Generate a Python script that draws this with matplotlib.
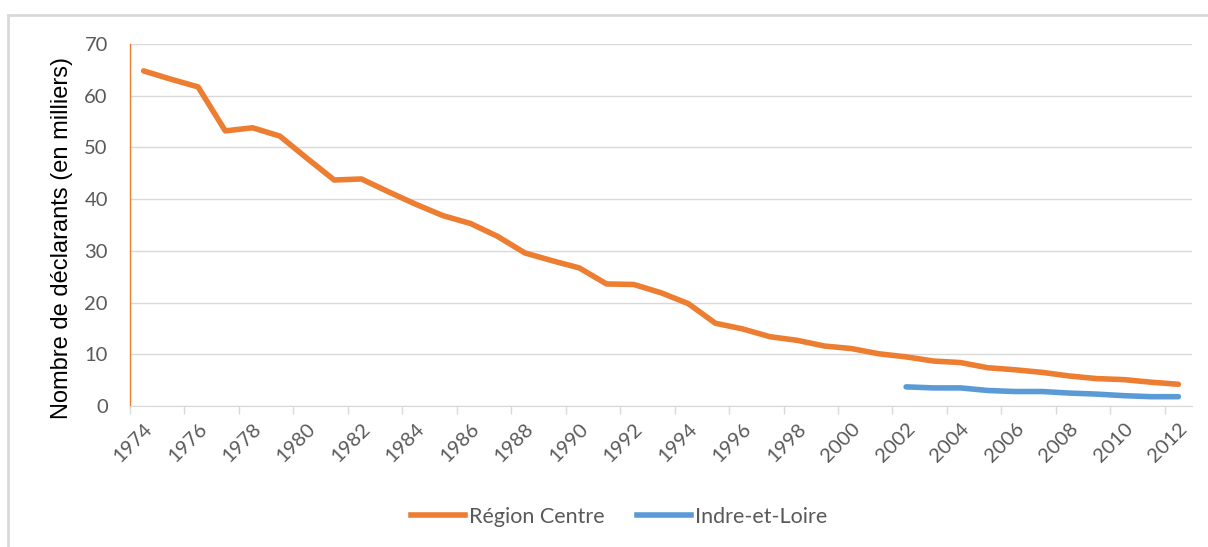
import numpy as np
import matplotlib
matplotlib.use("Agg")
import matplotlib.pyplot as plt
from matplotlib.lines import Line2D

annees = list(range(1974, 2013))
region_centre = [64.8, 63.2, 61.7, 53.2, 53.8, 52.2, 47.9, 43.7, 43.9, 41.4,
                 39.0, 36.8, 35.3, 32.8, 29.6, 28.1, 26.7, 23.6, 23.5, 21.9,
                 19.8, 16.0, 14.9, 13.4, 12.7, 11.6, 11.1, 10.1, 9.5, 8.7,
                 8.4, 7.4, 7.0, 6.5, 5.8, 5.3, 5.1, 4.6, 4.2]
annees_il = list(range(2002, 2013))
indre_et_loire = [3.7, 3.5, 3.5, 3.0, 2.8, 2.8, 2.5, 2.3, 2.0, 1.8, 1.8]

orange = "#ED7D31"
bleu = "#5B9BD5"
gris = "#D9D9D9"
texte = "#595959"

plt.rcParams['font.family'] = ['Lato', 'DejaVu Sans']

fig = plt.figure(figsize=(12.08, 5.47), dpi=100)
ax = fig.add_axes([130/1208, 1-406/547, (1192-130)/1208, (406-44)/547])

x = np.arange(len(annees))
x_il = np.array([annees.index(a) for a in annees_il])
ax.plot(x, region_centre, color=orange, lw=4, solid_capstyle='round', label="Région Centre")
ax.plot(x_il, indre_et_loire, color=bleu, lw=4, solid_capstyle='round', label="Indre-et-Loire")

ax.set_xlim(-0.5, len(annees) - 0.5)
ax.set_ylim(0, 70)
ax.set_yticks(range(0, 71, 10))
ax.yaxis.grid(True, color=gris, lw=1)
ax.set_axisbelow(True)
ax.tick_params(axis='y', length=0, pad=16, labelsize=14.5, labelcolor=texte)

# etiquettes tous les 2 ans, graduations entre categories
ax.set_xticks(x[::2])
ax.set_xticklabels([str(a) for a in annees[::2]], rotation=45, ha='right',
                   va='top', rotation_mode='anchor')
ax.tick_params(axis='x', which='major', length=0, pad=10, labelsize=14.5, labelcolor=texte)
ax.set_xticks(np.arange(-0.5, len(annees) - 1, 2), minor=True)
ax.tick_params(axis='x', which='minor', length=6, color=gris, width=1)

for s in ['top', 'right']:
    ax.spines[s].set_visible(False)
ax.spines['bottom'].set_color(gris)
ax.spines['left'].set_color(orange)
ax.spines['left'].set_linewidth(1)

ax.set_ylabel("Nombre de déclarants (en milliers)", fontsize=17, color='black',
              family=['Liberation Sans', 'DejaVu Sans'])
ax.yaxis.set_label_coords((73 - 130) / 1062, 0.465)

# legende
handles = [Line2D([], [], color=orange, lw=4), Line2D([], [], color=bleu, lw=4)]
fig.legend(handles, ["Région Centre", "Indre-et-Loire"], loc='center',
           bbox_to_anchor=(619/1208, 1-517/547), ncol=2, frameon=False,
           fontsize=15.5, labelcolor=texte, handlelength=2.5, handletextpad=0.2,
           columnspacing=1.5)

# cadre du graphique (haut et gauche)
fig.add_artist(Line2D([8/1208, 1], [1-15/547, 1-15/547], color=gris, lw=2,
                      transform=fig.transFigure))
fig.add_artist(Line2D([8/1208, 8/1208], [0, 1-15/547], color=gris, lw=2,
                      transform=fig.transFigure))

fig.savefig("out.png", dpi=100, facecolor='white')
